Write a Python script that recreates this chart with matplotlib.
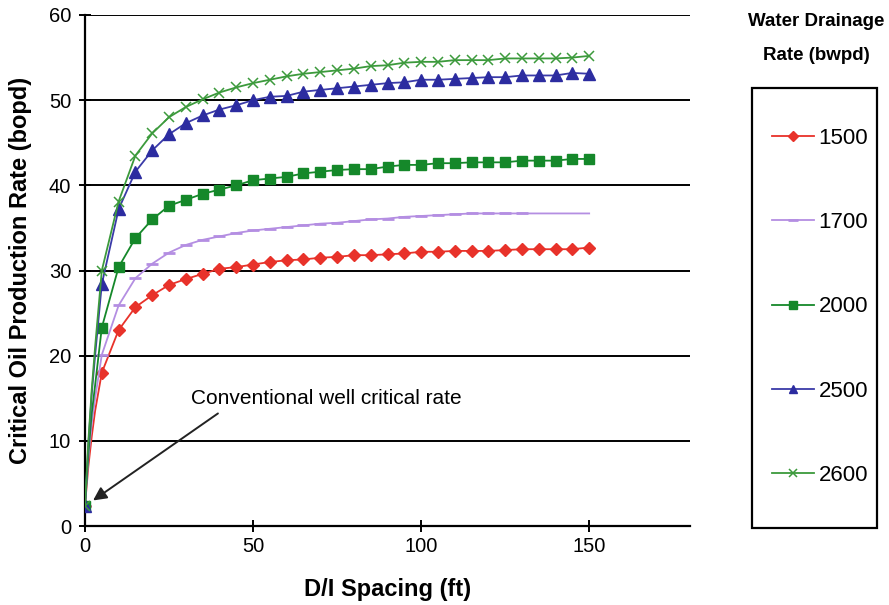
import matplotlib
matplotlib.use("Agg")
import matplotlib.pyplot as plt
from matplotlib.patches import Rectangle

plt.rcParams['font.family'] = ['Liberation Sans', 'DejaVu Sans']

# D/I spacing (ft)
spacing = [0, 1, 2, 3, 5, 10, 15, 20, 25, 30, 35, 40, 45, 50, 55, 60, 65, 70, 75,
           80, 85, 90, 95, 100, 105, 110, 115, 120, 125, 130, 135, 140, 145, 150]

# Critical oil production rate (bopd) for each water drainage rate
rate_1500 = [2.4, 7.0, 10.5, 13.5, 18.0, 23.0, 25.7, 27.1, 28.3, 29.0, 29.6, 30.2, 30.4,
             30.7, 31.0, 31.2, 31.3, 31.5, 31.6, 31.8, 31.8, 31.9, 32.0, 32.2, 32.2,
             32.3, 32.3, 32.3, 32.4, 32.5, 32.5, 32.5, 32.5, 32.7]
rate_1700 = [2.4, 8.0, 12.0, 15.0, 20.1, 25.9, 29.1, 30.8, 32.1, 33.0, 33.6, 34.0, 34.4,
             34.7, 34.9, 35.1, 35.3, 35.5, 35.6, 35.8, 36.0, 36.1, 36.3, 36.4, 36.5,
             36.6, 36.7, 36.7, 36.7, 36.7, 36.7, 36.7, 36.7, 36.7]
rate_2000 = [2.4, 8.5, 13.2, 16.5, 23.3, 30.4, 33.8, 36.0, 37.6, 38.3, 39.0, 39.5, 40.0,
             40.6, 40.8, 41.0, 41.4, 41.6, 41.8, 41.9, 41.9, 42.2, 42.4, 42.4, 42.6,
             42.6, 42.7, 42.7, 42.7, 42.9, 42.9, 42.9, 43.1, 43.1]
rate_2500 = [2.4, 9.5, 15.5, 20.0, 28.4, 37.2, 41.6, 44.1, 46.0, 47.3, 48.2, 48.9, 49.4,
             50.0, 50.4, 50.5, 51.0, 51.2, 51.4, 51.6, 51.8, 52.0, 52.1, 52.4, 52.4,
             52.5, 52.6, 52.7, 52.7, 52.9, 52.9, 52.9, 53.2, 53.1]
rate_2600 = [2.4, 10.0, 16.0, 21.0, 30.0, 38.1, 43.5, 46.1, 48.0, 49.2, 50.1, 50.9, 51.5,
             52.0, 52.4, 52.8, 53.1, 53.3, 53.5, 53.7, 54.0, 54.1, 54.4, 54.5, 54.5,
             54.7, 54.7, 54.7, 54.9, 54.9, 54.9, 54.9, 55.0, 55.2]

labels = ["1500", "1700", "2000", "2500", "2600"]
y_ticks = [0, 10, 20, 30, 40, 50, 60]
x_ticks = [0, 50, 100, 150]

fig = plt.figure(figsize=(8.89, 6.05), dpi=100)
W, H = 889, 605
ax = fig.add_axes([85 / W, 1 - 526 / H, (690 - 85) / W, (526 - 15) / H])

# horizontal grid lines
for yv in y_ticks[1:]:
    ax.axhline(yv, color='black', lw=1.4, zorder=1)

# markers on the origin point and the regular 5 ft steps
main_marks = [i for i, s in enumerate(spacing) if s == 0 or s >= 5]
purple_marks = [i for i in main_marks if spacing[i] <= 130]

l1, = ax.plot(spacing, rate_1500, color='#e8322a', lw=1.3, marker='D', ms=6,
              mec='#e8322a', mfc='#e8322a', markevery=main_marks, zorder=3)
l2, = ax.plot(spacing, rate_1700, color='#b48ee2', lw=1.3, marker='_', ms=9,
              mew=2, markevery=purple_marks, zorder=3)
l3, = ax.plot(spacing, rate_2000, color='#15882a', lw=1.3, marker='s', ms=6.5,
              mfc='#15882a', mec='#15882a', markevery=main_marks, zorder=3)
l4, = ax.plot(spacing, rate_2500, color='#3a3aa8', lw=1.3, marker='^', ms=8,
              mfc='#2c2ca0', mec='#2c2ca0', markevery=main_marks, zorder=3)
l5, = ax.plot(spacing, rate_2600, color='#3c9a3c', lw=1.3, marker='x', ms=7,
              mew=1.1, markevery=main_marks, zorder=3)

ax.set_xlim(0, 180)
ax.set_ylim(0, 60)
ax.set_xticks(x_ticks)
ax.set_yticks(y_ticks)
ax.tick_params(axis='both', direction='inout', length=8, width=1.4,
               labelsize=14.5, color='black')
ax.tick_params(axis='x', pad=4)
ax.tick_params(axis='y', pad=6)
for side in ('top', 'right'):
    ax.spines[side].set_visible(False)
for side in ('left', 'bottom'):
    ax.spines[side].set_linewidth(1.6)

ax.set_xlabel("D/I Spacing (ft)", fontsize=17, fontweight='bold', labelpad=16)
ax.set_ylabel("Critical Oil Production Rate (bopd)", fontsize=17,
              fontweight='bold', labelpad=12)

ax.annotate("Conventional well critical rate", xy=(2.4, 3.0), xytext=(31.5, 15.0),
            fontsize=15, va='center', ha='left',
            arrowprops=dict(arrowstyle='-|>', color='#222222', lw=1.4,
                            mutation_scale=20, shrinkA=0, shrinkB=0,
                            relpos=(0.1, -0.3)),
            annotation_clip=False)

# legend box and title
fig.patches.append(Rectangle((752 / W, 1 - 528 / H), (877 - 752) / W, (528 - 88) / H,
                             transform=fig.transFigure, fill=False,
                             edgecolor='black', lw=1.6))
fig.text(816 / W, 1 - 22 / H, "Water Drainage", ha='center', va='center',
         fontsize=13.5, fontweight='bold')
fig.text(816 / W, 1 - 55 / H, "Rate (bwpd)", ha='center', va='center',
         fontsize=13.5, fontweight='bold')
leg = fig.legend([l1, l2, l3, l4, l5], labels, loc='center',
                 bbox_to_anchor=(820 / W, 1 - 307 / H), frameon=False,
                 fontsize=16, labelspacing=2.85, handlelength=1.9,
                 handletextpad=0.2, markerscale=0.8)

fig.savefig("out.png", dpi=100)
